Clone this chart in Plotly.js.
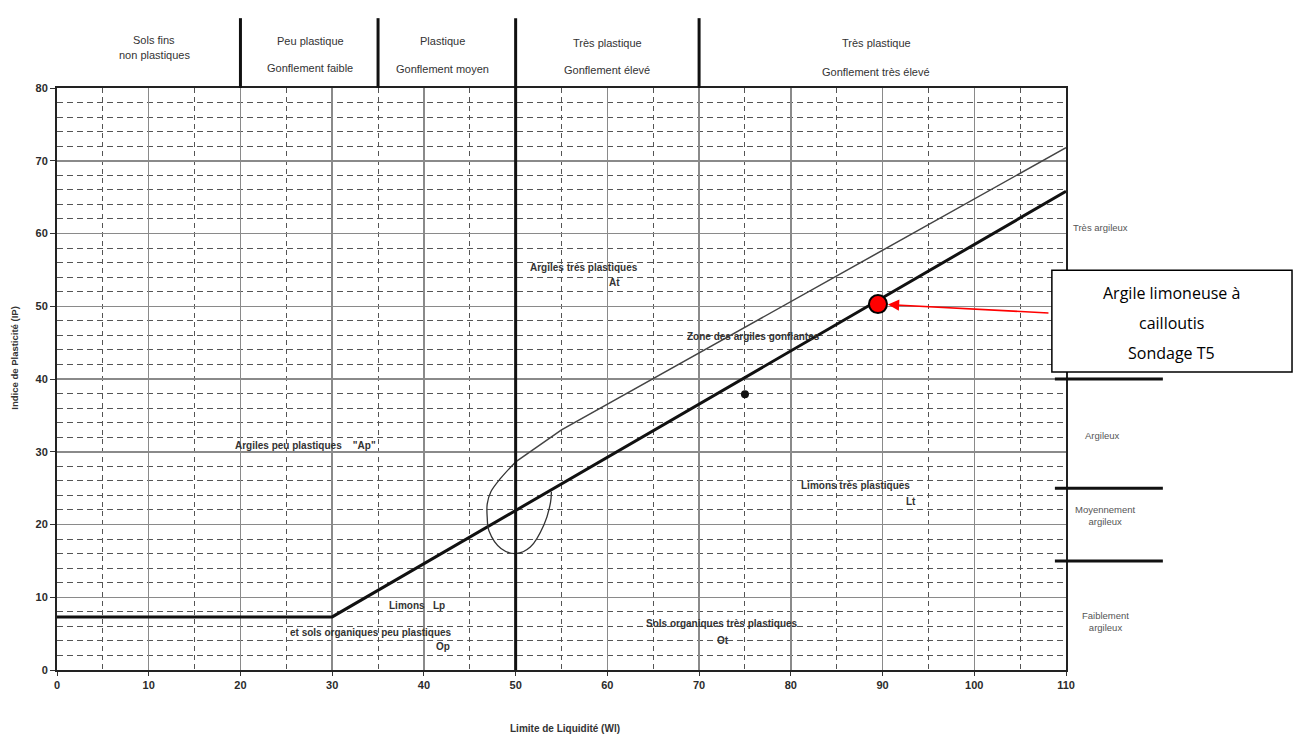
<!DOCTYPE html>
<html>
<head>
<meta charset="utf-8">
<script src="https://cdn.plot.ly/plotly-3.0.1.min.js"></script>
<style>html,body{margin:0;padding:0;background:#fff;}#chart{width:1295px;height:736px;}</style>
</head>
<body>
<div id="chart"></div>
<script>
// ---- data ----
const xTickVals = [0,10,20,30,40,50,60,70,80,90,100,110];
const yTickVals = [0,10,20,30,40,50,60,70,80];

// Ligne A (thick)
const aLineWl = [0, 30, 110];
const aLineIp = [7.3, 7.3, 65.8];

// Upper thin line (zone des argiles gonflantes)
const upperWl = [50, 55, 110];
const upperIp = [28.6, 33.0, 71.8];

// Loop near Wl = 50
const loopWl = [50, 48.4, 47.3, 46.9, 46.9, 47.1, 48.4, 50, 51.6, 53.1, 53.8, 53.9];
const loopIp = [28.6, 26.4, 24.5, 22.8, 21.0, 19.1, 16.7, 16.0, 16.9, 20.0, 23.0, 24.5];

// Samples
const sampleWl = [89.5];
const sampleIp = [50.3];
const dotWl = [75];
const dotIp = [37.9];

// Header columns
const headerDividers = [20, 35, 50, 70];
const headerTop = ["Sols fins", "Peu plastique", "Plastique", "Très plastique", "Très plastique"];
const headerBottom = ["non plastiques", "Gonflement faible", "Gonflement moyen", "Gonflement élevé", "Gonflement très élevé"];

// Zone labels
const zoneLabels = [
  "Argiles très plastiques", "At",
  "Zone des argiles gonflantes",
  "Argiles peu plastiques\u00a0\u00a0\u00a0\u00a0\"Ap\"",
  "Limons très plastiques", "Lt",
  "Limons\u00a0\u00a0\u00a0Lp",
  "et sols organiques peu plastiques", "Op",
  "Sols organiques très plastiques", "Ot"
];

// Clay degree bounds (right side) and labels
const clayBounds = [40, 25, 15];
const clayLabels = ["Très argileux", "Argileux", "Moyennement<br>argileux", "Faiblement<br>argileux"];

const boxLines = ["Argile limoneuse à", "cailloutis", "Sondage T5"];
const xTitle = "Limite de Liquidité (Wl)";
const yTitle = "Indice de Plasticité (IP)";

// ---- layout helpers ----
const F = "Liberation Sans, Arial, sans-serif";
const ink = "#2b2b2b";

const traces = [
  {x: aLineWl, y: aLineIp, mode: "lines", line: {color: "#111", width: 3}, hoverinfo: "skip"},
  {x: upperWl, y: upperIp, mode: "lines", line: {color: "#444", width: 1.5}, hoverinfo: "skip"},
  {x: loopWl, y: loopIp, mode: "lines", line: {color: "#333", width: 1.3, shape: "spline"}, hoverinfo: "skip"},
  {x: dotWl, y: dotIp, mode: "markers", marker: {color: "#111", size: 8}, hoverinfo: "skip"},
  {x: sampleWl, y: sampleIp, mode: "markers", marker: {color: "#ff0000", size: 18, line: {color: "#000", width: 2}}, hoverinfo: "skip"}
];

const shapes = [];
headerDividers.forEach(v => {
  shapes.push({type: "line", xref: "x", yref: "paper", x0: v, x1: v,
    y0: v === 50 ? 0 : 1, y1: 1.12, line: {color: "#111", width: 3}});
});
clayBounds.forEach(v => {
  shapes.push({type: "line", xref: "paper", yref: "y", x0: 0.989, x1: 1.096, y0: v, y1: v,
    line: {color: "#111", width: 3}});
});
shapes.push({type: "rect", xref: "paper", yref: "paper", x0: 0.986, x1: 1.224, y0: 0.512, y1: 0.687,
  fillcolor: "#fff", line: {color: "#000", width: 1.5}, layer: "above"});

const annotations = [];
const hdrX = [10.6, 27.6, 42, 60, 89.3];
const hdrTopY = [1.083, 1.081, 1.080, 1.077, 1.077];
const hdrBotY = [1.057, 1.034, 1.033, 1.031, 1.027];
headerTop.forEach((t, i) => {
  annotations.push({x: hdrX[i], y: hdrTopY[i], xref: "x", yref: "paper", text: t, showarrow: false,
    xanchor: "center", yanchor: "middle", font: {family: F, size: 11, color: "#333"}});
  annotations.push({x: hdrX[i], y: hdrBotY[i], xref: "x", yref: "paper", text: headerBottom[i], showarrow: false,
    xanchor: "center", yanchor: "middle", font: {family: F, size: 11, color: "#333"}});
});
const zx = [57.5, 60.8, 75.9, 27.1, 87.1, 93.1, 39.2, 34.2, 42.1, 72.5, 72.6];
const zy = [55.3, 53.2, 45.8, 30.9, 25.3, 23.1, 8.9, 5.2, 3.2, 6.4, 4.1];
zoneLabels.forEach((t, i) => {
  annotations.push({x: zx[i], y: zy[i], xref: "x", yref: "y", text: t, showarrow: false,
    xanchor: "center", yanchor: "middle", font: {family: F, size: 10, color: "#333", weight: "bold"}});
});
const cx = [1.034, 1.036, 1.039, 1.039];
const cy = [60.8, 32.3, 21.2, 6.6];
clayLabels.forEach((t, i) => {
  annotations.push({x: cx[i], y: cy[i], xref: "paper", yref: "y", text: t, showarrow: false,
    xanchor: "center", yanchor: "middle", font: {family: F, size: 9.5, color: "#555"}});
});
const by = [0.648, 0.596, 0.545];
boxLines.forEach((t, i) => {
  annotations.push({x: 1.105, y: by[i], xref: "paper", yref: "paper", text: t, showarrow: false,
    xanchor: "center", yanchor: "middle",
    font: {family: "Open Sans, Liberation Sans, sans-serif", size: 16, color: "#000"}});
});
annotations.push({x: sampleWl[0], y: sampleIp[0], xref: "x", yref: "y", ax: 172, ay: 9, text: "",
  showarrow: true, arrowhead: 2, arrowsize: 1.4, arrowwidth: 1.6, arrowcolor: "#ff0000", standoff: 10});
annotations.push({x: -0.043, y: 0.536, xref: "paper", yref: "paper", text: yTitle, textangle: -90, showarrow: false,
  xanchor: "center", yanchor: "middle", font: {family: F, size: 9.5, color: "#333", weight: "bold"}});
annotations.push({x: 0.503, y: -0.101, xref: "paper", yref: "paper", text: xTitle, showarrow: false,
  xanchor: "center", yanchor: "middle", font: {family: F, size: 10, color: "#333", weight: "bold"}});

const layout = {
  width: 1295, height: 736,
  margin: {l: 57, r: 229, t: 88, b: 66},
  paper_bgcolor: "#fff", plot_bgcolor: "#fff",
  showlegend: false,
  xaxis: {
    range: [0, 110], tickvals: xTickVals, showgrid: true, gridcolor: "#8a8a8a", gridwidth: 1.5,
    zeroline: false, showline: true, mirror: true, linecolor: "#222", linewidth: 2,
    ticks: "outside", ticklen: 4, tickcolor: "#333",
    tickfont: {family: F, size: 11, color: ink, weight: "bold"},
    minor: {dtick: 5, showgrid: true, gridcolor: "#555", gridwidth: 1, griddash: "5px,4px"}
  },
  yaxis: {
    range: [0, 80], tickvals: yTickVals, showgrid: true, gridcolor: "#8a8a8a", gridwidth: 1.5,
    zeroline: false, showline: true, mirror: true, linecolor: "#222", linewidth: 2,
    ticks: "outside", ticklen: 5, tickcolor: "#333",
    tickfont: {family: F, size: 11, color: ink, weight: "bold"},
    minor: {dtick: 2, showgrid: true, gridcolor: "#555", gridwidth: 1, griddash: "6px,4px"}
  },
  shapes: shapes,
  annotations: annotations
};

Plotly.newPlot("chart", traces, layout, {displayModeBar: false, staticPlot: true});
</script>
</body>
</html>
